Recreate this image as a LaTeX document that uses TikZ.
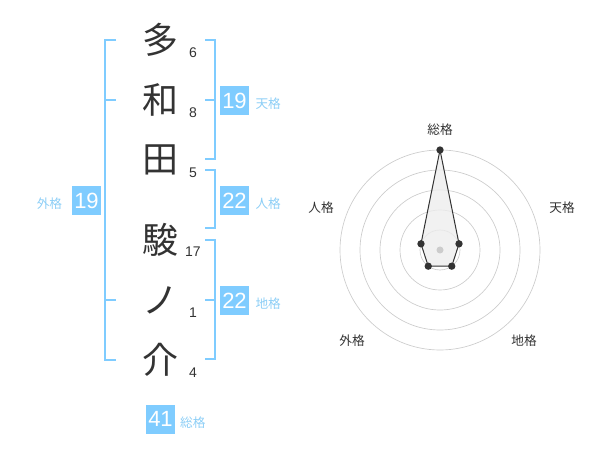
\documentclass[tikz,border=0pt]{standalone}
\usepackage{fontspec}
\setmainfont{Liberation Sans}
\newfontfamily\jpfont{Noto Sans CJK JP}
\usetikzlibrary{positioning,calc}

\definecolor{kakublue}{RGB}{127,204,255}
\definecolor{kakutext}{RGB}{140,206,246}
\definecolor{ink}{RGB}{51,51,51}
\definecolor{ringgray}{RGB}{204,204,204}

\tikzset{
    kanji/.style={inner sep=0pt, text=ink, font=\jpfont\fontsize{27}{27}\selectfont},
    strokes/.style={inner sep=0pt, text=ink, font=\fontsize{10.5}{10.5}\selectfont},
    valbox/.style={fill=kakublue, text=white, inner sep=0pt, minimum width=21.75pt, minimum height=21.75pt, font=\fontsize{16.5}{16.5}\selectfont},
    kakulabel/.style={inner sep=0pt, text=kakutext, font=\jpfont\fontsize{9.5}{9.5}\selectfont},
    bracket/.style={draw=kakublue, line width=1.5pt},
    radarlabel/.style={inner sep=0pt, text=ink, font=\jpfont\fontsize{9.5}{9.5}\selectfont},
    ring/.style={draw=ringgray, line width=0.5pt},
    dot/.style={circle, fill=ink, inner sep=0pt, minimum size=5.5pt}
}

\begin{document}
\begin{tikzpicture}[x=0.75pt,y=0.75pt,yscale=-1,xscale=1]
    \path[use as bounding box] (0,0) rectangle (600,470);

    % Text Node
    \node (ta) [kanji] at (160,40) {多};
    \node (wa) [kanji] at (160,100) {和};
    \node (da) [kanji] at (160,160) {田};
    \node (shun) [kanji] at (160,240) {駿};
    \node (no) [kanji] at (160,300) {ノ};
    \node (suke) [kanji] at (160,360) {介};

    % Text Node
    \node (nta) [strokes] at (193,53) {6};
    \node (nwa) [strokes] at (193,113) {8};
    \node (nda) [strokes] at (193,173) {5};
    \node (nshun) [strokes] at (193,252) {17};
    \node (nno) [strokes] at (193,313) {1};
    \node (nsuke) [strokes] at (193,373) {4};

    %Shape: Bracket (outer)
    \draw [bracket] (116,40) -- (105,40) -- (105,360) -- (116,360) (105,100) -- (116,100) (105,300) -- (116,300);
    %Shape: Bracket (heaven)
    \draw [bracket] (205,40) -- (214.5,40) -- (214.5,159.5) -- (205,159.5) (205,100) -- (214.5,100);
    %Shape: Bracket (person)
    \draw [bracket] (205,170) -- (214.5,170) -- (214.5,228.5) -- (205,228.5);
    %Shape: Bracket (earth)
    \draw [bracket] (205,240) -- (214.5,240) -- (214.5,359.5) -- (205,359.5) (205,300) -- (214.5,300);

    % Text Node
    \node (gaibox) [valbox] at (86.5,200.5) {19};
    \node (gailab) [kakulabel, left=7pt of gaibox.west, yshift=-2.5pt, anchor=east] {外格};
    \node (tenbox) [valbox] at (234.5,100.5) {19};
    \node (tenlab) [kakulabel, right=4.5pt of tenbox.east, yshift=-2.5pt, anchor=west] {天格};
    \node (jinbox) [valbox] at (234.5,200.5) {22};
    \node (jinlab) [kakulabel, right=4.5pt of jinbox.east, yshift=-2.5pt, anchor=west] {人格};
    \node (chibox) [valbox] at (234.5,300.5) {22};
    \node (chilab) [kakulabel, right=4.5pt of chibox.east, yshift=-2.5pt, anchor=west] {地格};
    \node (soubox) [valbox] at (160.5,419) {41};
    \node (soulab) [kakulabel, right=3.5pt of soubox.east, yshift=-2.5pt, anchor=west] {総格};

    %Shape: Radar rings
    \coordinate (c) at (440,250);
    \foreach \r in {20,40,60,80,100}
        \draw [ring] (c) circle [radius=\r];

    %Shape: Radar polygon
    \coordinate (psou) at ($(c)+(-90:100)$);
    \coordinate (pten) at ($(c)+(-18:20)$);
    \coordinate (pchi) at ($(c)+(54:20)$);
    \coordinate (pgai) at ($(c)+(126:20)$);
    \coordinate (pjin) at ($(c)+(198:20)$);
    \draw [draw=ink, fill=black!7, fill opacity=0.8, line width=0.75pt] (psou) -- (pten) -- (pchi) -- (pgai) -- (pjin) -- cycle;
    \foreach \p in {psou,pten,pchi,pgai,pjin}
        \node [dot] at (\p) {};
    \fill [ringgray] (c) circle [radius=3.5];

    % Text Node
    \node (rsou) [radarlabel] at (440,130) {総格};
    \node (rten) [radarlabel] at (562,208) {天格};
    \node (rchi) [radarlabel] at (524,341) {地格};
    \node (rgai) [radarlabel] at (352,341) {外格};
    \node (rjin) [radarlabel] at (321,208) {人格};

\end{tikzpicture}
\end{document}
